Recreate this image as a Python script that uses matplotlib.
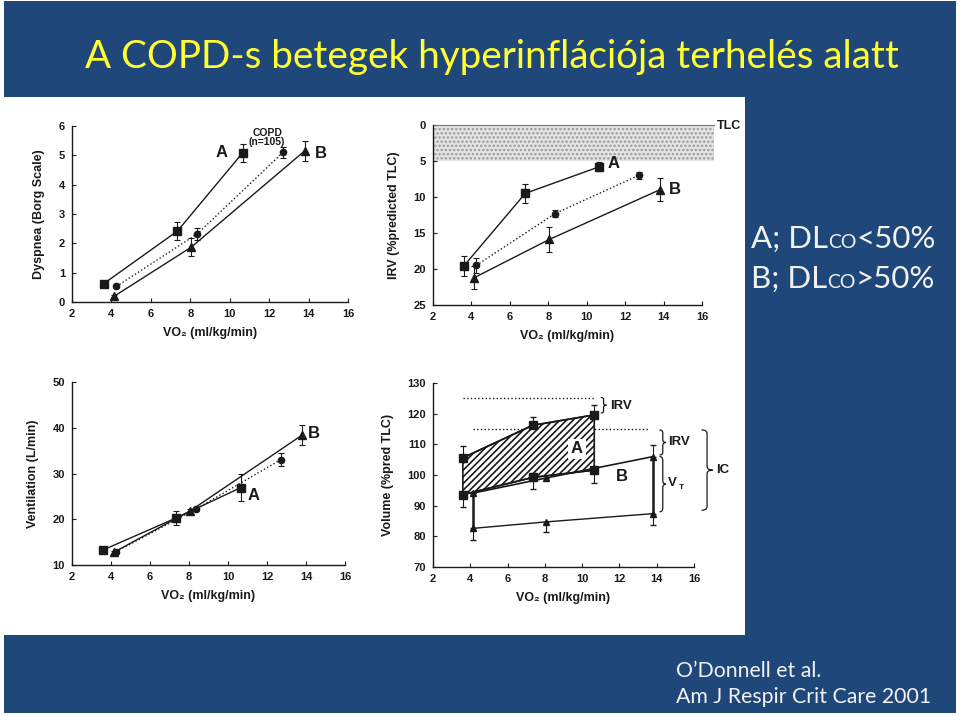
import matplotlib
matplotlib.use('Agg')
import matplotlib.pyplot as plt
from matplotlib.patches import Rectangle, PathPatch
from matplotlib.path import Path

W, H = 960, 716
BLUE = '#1F477A'
INK = '#1a1a1a'
SCAN = ['Liberation Sans', 'DejaVu Sans']

# VO2 positions (ml/kg/min) for the three groups
vo2_a = [3.6, 7.35, 10.65]
vo2_copd = [4.25, 8.35, 12.7]
vo2_b = [4.15, 8.05, 13.8]

# Dyspnea (Borg)
dys_a = [0.62, 2.42, 5.08]
dys_a_err = [0.05, 0.3, 0.3]
dys_copd = [0.53, 2.32, 5.1]
dys_copd_err = [0.05, 0.2, 0.2]
dys_b = [0.2, 1.87, 5.15]
dys_b_err = [0.05, 0.3, 0.33]

# IRV (% predicted TLC)
irv_vo2_a = [3.6, 6.8, 10.65]
irv_a = [19.6, 9.5, 5.8]
irv_a_err = [1.4, 1.3, 0.6]
irv_copd = [19.5, 12.3, 7.0]
irv_copd_err = [1.0, 0.5, 0.5]
irv_b = [21.2, 15.9, 9.0]
irv_b_err = [1.6, 1.7, 1.6]

# Ventilation (L/min)
ve_a = [13.3, 20.3, 26.9]
ve_a_err = [0.3, 1.6, 3.0]
ve_copd = [12.9, 22.2, 33.0]
ve_copd_err = [0.3, 0.4, 1.4]
ve_b = [12.8, 21.8, 38.4]
ve_b_err = [0.3, 0.4, 2.2]

# Volume (% pred TLC), end-inspiratory / end-expiratory
vol_a_top = [105.6, 116.2, 119.6]
vol_a_top_err = [3.8, 2.8, 3.3]
vol_a_bot = [93.6, 99.2, 101.6]
vol_a_bot_err = [4.0, 3.8, 4.3]
vol_b_top = [94.1, 99.0, 106.0]
vol_b_top_err = [0.0, 0.0, 3.8]
vol_b_bot = [82.6, 84.7, 87.4]
vol_b_bot_err = [3.8, 3.2, 3.8]
tlc_a, tlc_b = 125.0, 114.9

xticks = [2, 4, 6, 8, 10, 12, 14, 16]

plt.rcParams['hatch.linewidth'] = 1.2
fig = plt.figure(figsize=(W / 100, H / 100), dpi=100, facecolor='white')


def fx(x):
    return x / W


def fy(y):
    return 1 - y / H


def add_rect(l, t, r, b, color):
    fig.add_artist(Rectangle((fx(l), fy(b)), (r - l) / W, (b - t) / H,
                             transform=fig.transFigure, color=color, lw=0, zorder=-5))


def add_ax(l, t, r, b):
    ax = fig.add_axes([fx(l), fy(b), (r - l) / W, (b - t) / H])
    ax.patch.set_alpha(0)
    for s in ['top', 'right']:
        ax.spines[s].set_visible(False)
    for s in ['left', 'bottom']:
        ax.spines[s].set_color(INK)
        ax.spines[s].set_linewidth(1.0)
    ax.tick_params(direction='in', length=3, width=0.8, colors=INK, labelsize=8, pad=5)
    ax.set_xlim(2, 16)
    ax.set_xticks(xticks)
    ax.set_xlabel('VO₂ (ml/kg/min)', fontsize=9, fontweight='bold', family=SCAN, color=INK, labelpad=6)
    return ax


def bold_ticks(ax):
    for lab in ax.get_xticklabels() + ax.get_yticklabels():
        lab.set_fontweight('bold')
        lab.set_family(SCAN)


def series(ax, x, y, err, marker, ls, ms):
    ax.errorbar(x, y, yerr=err, color=INK, marker=marker, ms=ms, ls=ls, lw=1.0,
                elinewidth=0.8, capsize=2.5, capthick=0.8)


def label(ax, x, y, s, size=12, **kw):
    ax.text(x, y, s, fontsize=size, fontweight='bold', family=SCAN, color=INK, va='center', **kw)


def brace(ax, x, y0, y1, w, lw=0.9):
    q = min(abs(y1 - y0) * 0.12, 1.2)
    m = (y0 + y1) / 2
    xm = x + w / 2
    verts = [(x, y1), (xm, y1), (xm, y1 - q), (xm, m + q), (xm, m), (x + w, m),
             (xm, m), (xm, m - q), (xm, y0 + q), (xm, y0), (x, y0)]
    codes = [Path.MOVETO, Path.CURVE3, Path.CURVE3, Path.LINETO, Path.CURVE3, Path.CURVE3,
             Path.CURVE3, Path.CURVE3, Path.LINETO, Path.CURVE3, Path.CURVE3]
    ax.add_patch(PathPatch(Path(verts, codes), fill=False, lw=lw, color=INK, clip_on=False))


# slide background
add_rect(4, 1, 956, 713, BLUE)
add_rect(4, 97, 745, 635, 'white')

fig.text(fx(492), fy(68), 'A COPD-s betegek hyperinflációja terhelés alatt', color='#FFFF33',
         fontsize=27.8, family=['Lato', 'DejaVu Sans'], ha='center', va='baseline')

# right-hand legend text with small "CO"
renderer = fig.canvas.get_renderer()
for yb, head, tail in [(248, 'A; DL', '<50%'), (288, 'B; DL', '>50%')]:
    x = 751
    for txt, size in [(head, 22.5), ('CO', 14), (tail, 22.5)]:
        t = fig.text(fx(x), fy(yb), txt, color='#F2F2F2', fontsize=size,
                     family=['Lato', 'DejaVu Sans'], ha='left', va='baseline')
        x += t.get_window_extent(renderer).width

fig.text(fx(676), fy(677), 'O\u2019Donnell et al.', color='#F2F2F2', fontsize=15.3,
         family=['Lato', 'DejaVu Sans'], ha='left', va='baseline')
fig.text(fx(676), fy(703), 'Am J Respir Crit Care 2001', color='#F2F2F2', fontsize=15.3,
         family=['Lato', 'DejaVu Sans'], ha='left', va='baseline')

# --- panel 1: dyspnea
ax1 = add_ax(72, 126, 348, 302)
ax1.set_ylim(0, 6)
ax1.set_yticks(range(0, 7))
bold_ticks(ax1)
series(ax1, vo2_a, dys_a, dys_a_err, 's', '-', 5.5)
series(ax1, vo2_copd, dys_copd, dys_copd_err, 'o', ':', 4.5)
series(ax1, vo2_b, dys_b, dys_b_err, '^', '-', 5.5)
ax1.set_ylabel('Dyspnea (Borg Scale)', fontsize=9, fontweight='bold', family=SCAN, color=INK, labelpad=10)
label(ax1, 9.3, 5.1, 'A')
label(ax1, 14.3, 5.05, 'B')
label(ax1, 11.9, 5.62, 'COPD\n(n=105)', size=7.5, ha='center', linespacing=0.9)

# --- panel 2: IRV
ax2 = add_ax(433, 125, 702, 305)
ax2.set_ylim(25, 0)
ax2.set_yticks(range(0, 26, 5))
bold_ticks(ax2)
ax2.fill_between([2, 16.6], 0, 5, facecolor='#e4e4e4', edgecolor='#9a9a9a', hatch='....',
                 lw=0, clip_on=False, zorder=0)
ax2.plot([2, 16.6], [0, 0], color='#777777', lw=0.8, clip_on=False)
series(ax2, irv_vo2_a, irv_a, irv_a_err, 's', '-', 5.5)
series(ax2, vo2_copd, irv_copd, irv_copd_err, 'o', ':', 4.5)
series(ax2, vo2_b, irv_b, irv_b_err, '^', '-', 5.5)
ax2.set_ylabel('IRV (%predicted TLC)', fontsize=9, fontweight='bold', family=SCAN, color=INK, labelpad=10)
label(ax2, 16.8, 0.1, 'TLC', size=9)
label(ax2, 11.1, 5.3, 'A')
label(ax2, 14.3, 9.0, 'B')

# --- panel 3: ventilation
ax3 = add_ax(72, 382, 345, 565)
ax3.set_ylim(10, 50)
ax3.set_yticks(range(10, 51, 10))
bold_ticks(ax3)
series(ax3, vo2_a, ve_a, ve_a_err, 's', '-', 5.5)
series(ax3, vo2_copd, ve_copd, ve_copd_err, 'o', ':', 4.5)
series(ax3, vo2_b, ve_b, ve_b_err, '^', '-', 5.5)
ax3.set_ylabel('Ventilation (L/min)', fontsize=9, fontweight='bold', family=SCAN, color=INK, labelpad=10)
label(ax3, 11.0, 25.3, 'A')
label(ax3, 14.1, 38.8, 'B')

# --- panel 4: volumes
ax4 = add_ax(433, 383, 694, 567)
ax4.set_ylim(70, 130)
ax4.set_yticks(range(70, 131, 10))
bold_ticks(ax4)
ax4.plot([vo2_a[0], vo2_a[-1]], [tlc_a, tlc_a], color=INK, ls=':', lw=1.0)
ax4.plot([vo2_b[0], vo2_b[-1] - 0.2], [tlc_b, tlc_b], color=INK, ls=':', lw=1.0)
ax4.fill_between(vo2_a, vol_a_bot, vol_a_top, facecolor='white', edgecolor=INK, hatch='/////',
                 lw=1.2, zorder=2)
ax4.errorbar(vo2_a, vol_a_top, yerr=[[0] * 3, vol_a_top_err], color=INK, marker='s', ms=5.5,
             lw=1.2, elinewidth=0.8, capsize=2.5, zorder=3)
ax4.errorbar(vo2_a, vol_a_bot, yerr=[vol_a_bot_err, [0] * 3], color=INK, marker='s', ms=5.5,
             lw=1.2, elinewidth=0.8, capsize=2.5, zorder=3)
ax4.errorbar(vo2_b, vol_b_top, yerr=[[0] * 3, vol_b_top_err], color=INK, marker='^', ms=5,
             lw=1.2, elinewidth=0.8, capsize=2.5, zorder=3)
ax4.errorbar(vo2_b, vol_b_bot, yerr=[vol_b_bot_err, [0] * 3], color=INK, marker='^', ms=4.5,
             lw=1.0, elinewidth=0.8, capsize=2.5, zorder=3)
for i in [0, -1]:
    ax4.plot([vo2_b[i], vo2_b[i]], [vol_b_bot[i], vol_b_top[i]], color=INK, lw=1.8, zorder=3)
ax4.set_ylabel('Volume (%pred TLC)', fontsize=9, fontweight='bold', family=SCAN, color=INK, labelpad=10)
label(ax4, 9.4, 108.5, 'A', zorder=4, bbox=dict(facecolor='white', edgecolor='none', pad=2))
label(ax4, 11.8, 99.5, 'B')
brace(ax4, 11.0, 120.2, 125.3, 0.3)
label(ax4, 11.5, 122.5, 'IRV', size=9.5)
brace(ax4, 14.15, 106.5, 114.7, 0.35)
label(ax4, 14.6, 110.8, 'IRV', size=9.5)
brace(ax4, 14.15, 88.0, 106.0, 0.35)
label(ax4, 14.6, 97.5, 'V', size=9.5)
label(ax4, 15.2, 96.0, 'T', size=6)
brace(ax4, 16.4, 88.5, 114.7, 0.6)
label(ax4, 17.2, 101.6, 'IC', size=9.5)

fig.savefig('out.png', dpi=100, facecolor=fig.get_facecolor())
